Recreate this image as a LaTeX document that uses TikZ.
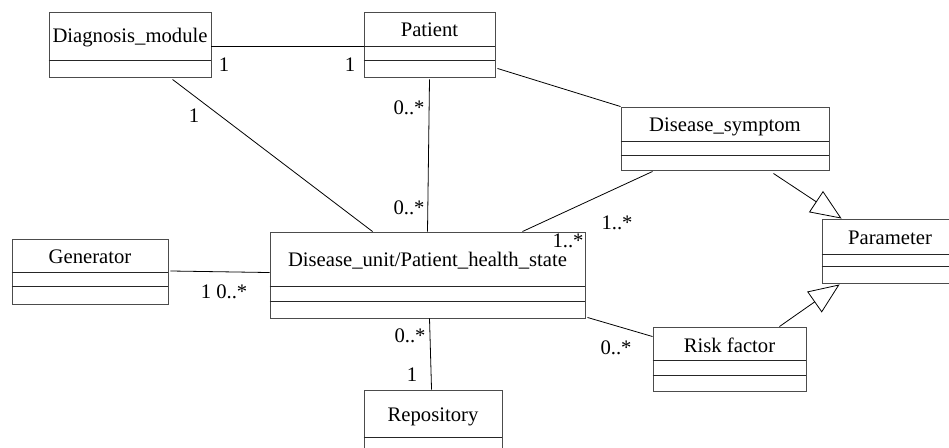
\documentclass[tikz,border=0pt]{standalone}
\usepackage{fontspec}
\setmainfont{Liberation Serif}
\usetikzlibrary{arrows.meta,calc,fit}

\begin{document}
\begin{tikzpicture}[x=0.75pt, y=-0.75pt,
    classbox/.style={draw=black!70, line width=0.7pt, inner sep=0pt},
    sepline/.style={black!85, line width=0.7pt},
    title/.style={font=\fontsize{15.5}{18}\selectfont, anchor=base, inner sep=0pt},
    mult/.style={font=\fontsize{15.5}{18}\selectfont, anchor=base, inner sep=0pt},
    assoc/.style={line width=0.6pt},
    gen/.style={line width=0.6pt, -{Triangle[open, length=23pt, width=19pt]}}]
    \clip (0,0) rectangle (949,448);

    % Classes
    \node (diag) [classbox, fit={(49,12) (211,77)}] {};
    \node (diagT) at ($(diag.north)+(0,31)$) [title] {Diagnosis\_module};
    \draw[sepline] ($(diag.north west)+(0,49)$) -- ($(diag.north east)+(0,49)$);

    \node (pat) [classbox, fit={(364,12) (495,77)}] {};
    \node (patT) at ($(pat.north)+(0,25)$) [title] {Patient};
    \draw[sepline] ($(pat.north west)+(0,35)$) -- ($(pat.north east)+(0,35)$);
    \draw[sepline] ($(pat.north west)+(0,49)$) -- ($(pat.north east)+(0,49)$);

    \node (symp) [classbox, fit={(621,107) (829,170)}] {};
    \node (sympT) at ($(symp.north)+(0,25)$) [title] {Disease\_symptom};
    \draw[sepline] ($(symp.north west)+(0,35)$) -- ($(symp.north east)+(0,35)$);
    \draw[sepline] ($(symp.north west)+(0,49)$) -- ($(symp.north east)+(0,49)$);

    \node (param) [classbox, fit={(822,219) (958,283)}] {};
    \node (paramT) at ($(param.north)+(0,26)$) [title] {Parameter};
    \draw[sepline] ($(param.north west)+(0,36)$) -- ($(param.north east)+(0,36)$);
    \draw[sepline] ($(param.north west)+(0,48)$) -- ($(param.north east)+(0,48)$);

    \node (gen) [classbox, fit={(12,239) (168,304)}] {};
    \node (genT) at ($(gen.north)+(0,25)$) [title] {Generator};
    \draw[sepline] ($(gen.north west)+(0,34)$) -- ($(gen.north east)+(0,34)$);
    \draw[sepline] ($(gen.north west)+(0,48)$) -- ($(gen.north east)+(0,48)$);

    \node (unit) [classbox, fit={(270,232) (585,318)}] {};
    \node (unitT) at ($(unit.north)+(0,35)$) [title] {Disease\_unit/Patient\_health\_state};
    \draw[sepline] ($(unit.north west)+(0,55)$) -- ($(unit.north east)+(0,55)$);
    \draw[sepline] ($(unit.north west)+(0,70)$) -- ($(unit.north east)+(0,70)$);

    \node (risk) [classbox, fit={(653,327) (806,391)}] {};
    \node (riskT) at ($(risk.north)+(0,26)$) [title] {Risk factor};
    \draw[sepline] ($(risk.north west)+(0,34)$) -- ($(risk.north east)+(0,34)$);
    \draw[sepline] ($(risk.north west)+(0,49)$) -- ($(risk.north east)+(0,49)$);

    \node (repo) [classbox, fit={(364,390) (502,470)}] {};
    \node (repoT) at ($(repo.north)+(0,32)$) [title] {Repository};
    \draw[sepline] ($(repo.north west)+(0,48)$) -- ($(repo.north east)+(0,48)$);
    \draw[sepline] ($(repo.north west)+(0,63)$) -- ($(repo.north east)+(0,63)$);

    % Associations
    \draw[assoc] ($(diag.north east)+(0,35)$) -- ($(pat.north west)+(0,35)$);
    \draw[assoc] ($(diag.south west)+(124,2)$) -- ($(unit.north west)+(103,0)$);
    \draw[assoc] ($(pat.south)+(0,2)$) -- (unit.north);
    \draw[assoc] ($(pat.south east)+(2,-9)$) -- (symp.north west);
    \draw[assoc] ($(symp.south west)+(32,1)$) -- ($(unit.north east)+(-63,0)$);
    \draw[assoc] ($(gen.east)+(2,-0.5)$) -- ($(unit.north west)+(0,41)$);
    \draw[assoc] ($(unit.south east)+(2,-1)$) -- ($(risk.north west)+(0,10)$);
    \draw[assoc] ($(unit.south)+(2,0)$) -- ($(repo.north west)+(68,0)$);

    % Generalizations
    \draw[gen] ($(symp.south east)+(-56,3)$) -- ($(param.north west)+(20,0)$);
    \draw[gen] ($(risk.north east)+(-27,0)$) -- ($(param.south west)+(18,1)$);

    % Multiplicities
    \node (m1) at (224,72) [mult] {1};
    \node (m2) at (350,72) [mult] {1};
    \node (m3) at (409,115) [mult] {0..*};
    \node (m4) at (194,123) [mult] {1};
    \node (m5) at (409,215) [mult] {0..*};
    \node (m6) at (224,299) [mult] {1 0..*};
    \node (m7) at (410,343) [mult] {0..*};
    \node (m8) at (412,382) [mult] {1};
    \node (m9) at (568,248) [mult] {1..*};
    \node (m10) at (617,230) [mult] {1..*};
    \node (m11) at (616,355) [mult] {0..*};
\end{tikzpicture}
\end{document}
